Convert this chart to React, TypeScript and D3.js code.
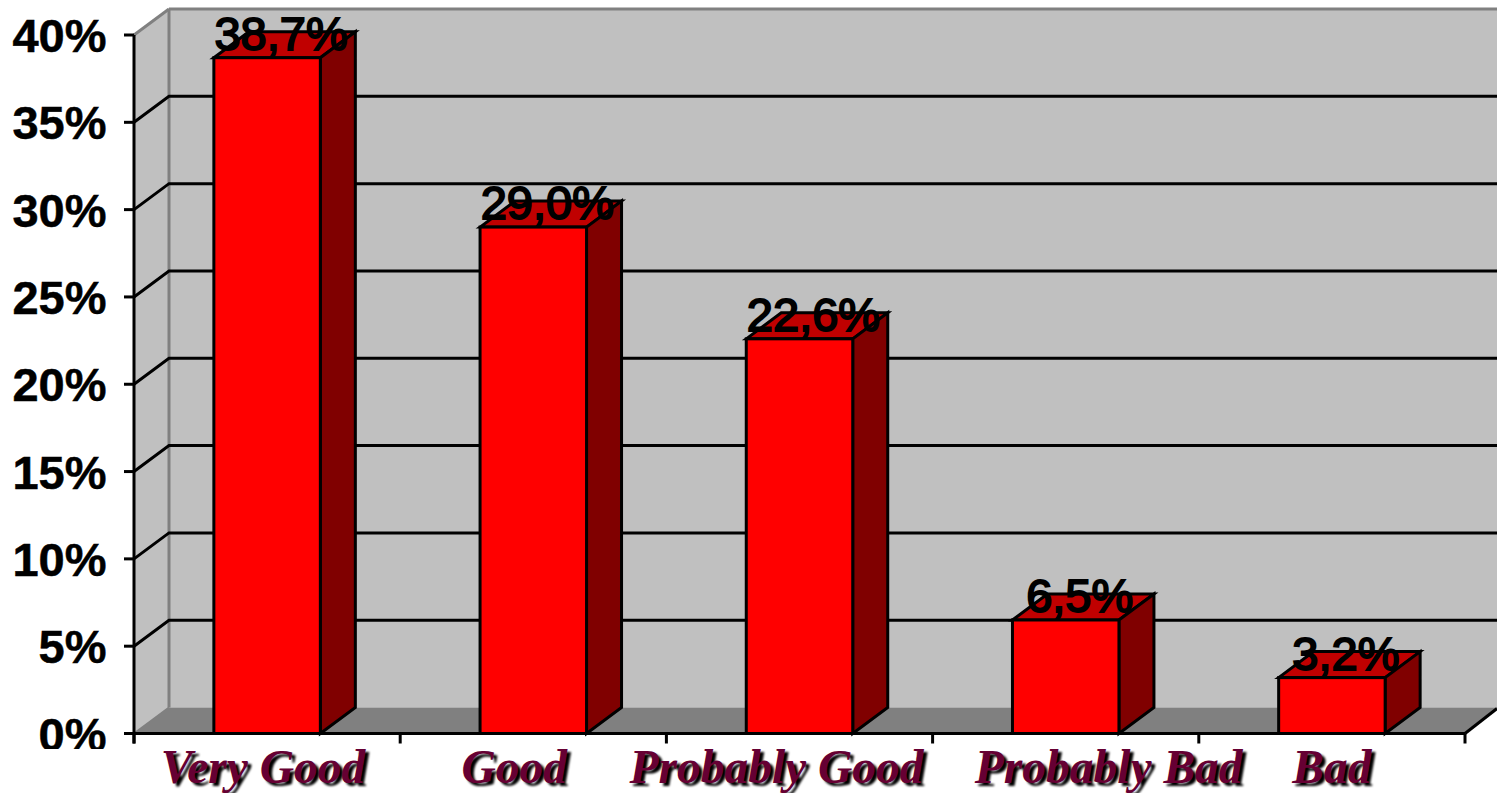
import React from "react";
import * as d3 from "d3";

const categories = ["Very Good", "Good", "Probably Good", "Probably Bad", "Bad"];
const values = [38.7, 29.0, 22.6, 6.5, 3.2];
const valueLabels = ["38,7%", "29,0%", "22,6%", "6,5%", "3,2%"];
const yTicks = [0, 5, 10, 15, 20, 25, 30, 35, 40];
const labelShift = [-4, -19, -23, 43, 0];

const W = 1497, H = 793;
const x0 = 134, x1 = 1465, dx = 35, dy = 26;
const y = d3.scaleLinear().domain([0, 40]).range([733.5, 35]);
const x = d3.scaleBand<string>().domain(categories).range([x0, x1]).paddingInner(0.6).paddingOuter(0.3);
const edges = d3.scaleLinear().domain([0, 5]).range([x0, x1]);

const pts = (a: [number, number][]) => a.map((p) => p.join(",")).join(" ");
const SANS = "'Liberation Sans', Arial, sans-serif";
const SERIF = "'Liberation Serif', 'Times New Roman', serif";

export default function App() {
  const y0 = y(0), yT = y(40);
  return (
    <svg width={W} height={H} viewBox={`0 0 ${W} ${H}`} style={{ position: "absolute", left: 0, top: 0, background: "#fff" }}>
      <defs>
        <filter id="soft" x="-10%" y="-20%" width="120%" height="140%">
          <feGaussianBlur stdDeviation="0.9" />
        </filter>
        <clipPath id="tickClip"><rect x={0} y={0} width={W} height={749} /></clipPath>
      </defs>

      {/* walls */}
      <rect x={x0 + dx} y={yT - dy} width={W} height={y0 - yT} fill="#c0c0c0" />
      <polygon points={pts([[x0, yT], [x0 + dx, yT - dy], [x0 + dx, y0 - dy], [x0, y0]])} fill="#c0c0c0" />
      <polygon points={pts([[x0, y0], [x0 + dx, y0 - dy], [W, y0 - dy], [W, y0 - dy + 1], [x1, y0]])} fill="#808080" />
      <line x1={x0 + dx} x2={W} y1={yT - dy} y2={yT - dy} stroke="#808080" strokeWidth={3} />
      <line x1={x0 + dx} x2={x0 + dx} y1={yT - dy} y2={y0 - dy} stroke="#808080" strokeWidth={3} />
      <line x1={x0} x2={x0 + dx} y1={yT} y2={yT - dy} stroke="#808080" strokeWidth={3} />
      <line x1={x0} x2={x0 + dx} y1={y0} y2={y0 - dy} stroke="#808080" strokeWidth={2} />

      {/* grid */}
      {yTicks.filter((t) => t > 0 && t < 40).map((t) => (
        <g key={t} stroke="#000" strokeWidth={3} fill="none">
          <polyline points={pts([[x0, y(t)], [x0 + dx, y(t) - dy], [W, y(t) - dy]])} />
        </g>
      ))}

      {/* axes */}
      <g stroke="#000" strokeWidth={3}>
        <line x1={x0} x2={x0} y1={yT} y2={y0 + 10} />
        <line x1={x0 - 10} x2={x1} y1={y0} y2={y0} />
        <line x1={x1} x2={W} y1={y0} y2={y0 - 25} />
        {yTicks.map((t) => <line key={t} x1={x0 - 10} x2={x0} y1={y(t)} y2={y(t)} />)}
        {d3.range(0, 6).map((i) => <line key={i} x1={edges(i)} x2={edges(i)} y1={y0} y2={y0 + 10} />)}
      </g>

      {/* bars */}
      {categories.map((c, i) => {
        const l = x(c)!, r = l + x.bandwidth(), top = y(values[i]);
        return (
          <g key={c} stroke="#000" strokeWidth={3} strokeLinejoin="miter">
            <polygon points={pts([[l, top], [l + dx, top - dy], [r + dx, top - dy], [r, top]])} fill="#c00000" />
            <polygon points={pts([[r, top], [r + dx, top - dy], [r + dx, y0 - dy], [r, y0]])} fill="#800000" />
            <rect x={l} y={top} width={r - l} height={y0 - top} fill="#ff0000" />
          </g>
        );
      })}

      {/* y labels */}
      <g clipPath="url(#tickClip)" fontFamily={SANS} fontWeight={700} fontSize={47} textAnchor="end" fill="#000" stroke="#000" strokeWidth={0.5}>
        {yTicks.map((t) => (
          <text key={t} x={106.5} y={y(t) + 17}>{`${t}%`}</text>
        ))}
      </g>

      {/* value labels */}
      <g fontFamily={SANS} fontWeight={400} fontSize={47} textAnchor="middle" fill="#000" stroke="#000" strokeWidth={1.9}>
        {categories.map((c, i) => (
          <text key={c} x={x(c)! + x.bandwidth() / 2 + 14} y={y(values[i]) - 8}>{valueLabels[i]}</text>
        ))}
      </g>

      {/* category labels */}
      <g fontFamily={SERIF} fontWeight={700} fontStyle="italic" fontSize={47.5} textAnchor="middle">
        {categories.map((c, i) => {
          const cx = x(c)! + x.bandwidth() / 2 + labelShift[i];
          return (
            <g key={c}>
              <text x={cx + 3.5} y={786} fill="#000" filter="url(#soft)">{c}</text>
              <text x={cx} y={783} fill="#660033">{c}</text>
            </g>
          );
        })}
      </g>
    </svg>
  );
}
